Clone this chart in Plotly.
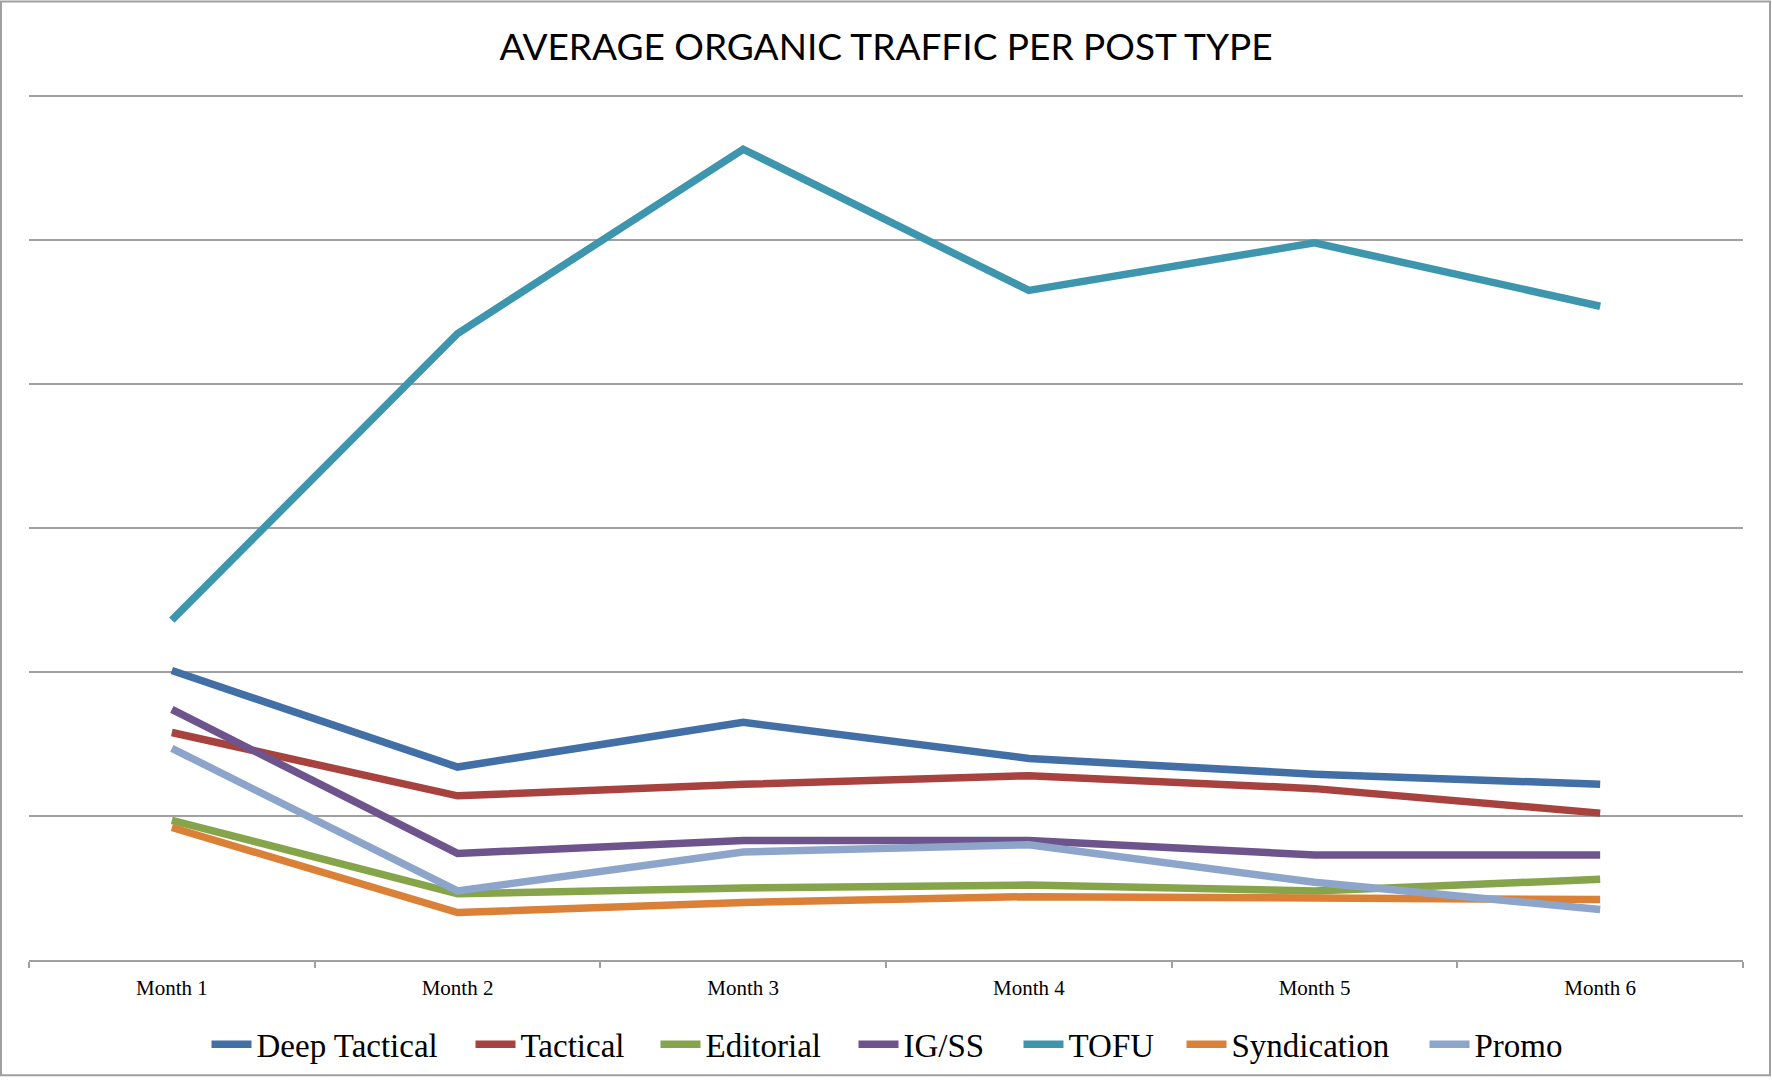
import plotly.graph_objects as go

months = ["Month 1", "Month 2", "Month 3", "Month 4", "Month 5", "Month 6"]

deep_tactical = [2.01, 1.34, 1.65, 1.40, 1.29, 1.22]
tactical      = [1.58, 1.14, 1.22, 1.28, 1.19, 1.02]
editorial     = [0.97, 0.46, 0.50, 0.52, 0.48, 0.56]
ig_ss         = [1.74, 0.74, 0.83, 0.83, 0.73, 0.73]
tofu          = [2.36, 4.35, 5.63, 4.65, 4.98, 4.54]
syndication   = [0.92, 0.33, 0.40, 0.44, 0.43, 0.42]
promo         = [1.47, 0.48, 0.75, 0.80, 0.54, 0.35]

series_names = ["Deep Tactical", "Tactical", "Editorial", "IG/SS", "TOFU", "Syndication", "Promo"]
series_values = [deep_tactical, tactical, editorial, ig_ss, tofu, syndication, promo]
series_colors = ["#416FA6", "#A8423F", "#86A44A", "#6E548D", "#3D96AE", "#DA8137", "#8EA5CB"]
# left pixel position of each legend entry (layout only)
legend_left_px = [212, 476, 661, 859, 1024, 1187, 1430]

W, H = 1772, 1084
ML, MR, MT, MB = 29, 29, 92, 118
PW, PH = W - ML - MR, H - MT - MB
YTOP = 6 + 4 / 145.0

fig = go.Figure()
layout_legends = {}
for i, (name, vals, col) in enumerate(zip(series_names, series_values, series_colors)):
    lg = "legend" if i == 0 else f"legend{i+1}"
    fig.add_trace(go.Scatter(
        x=months, y=vals, name=name, mode="lines",
        line=dict(color=col, width=7.5),
        legend=lg,
    ))
    layout_legends[lg] = dict(
        orientation="h", x=(legend_left_px[i] - 5.5 - ML) / PW, xanchor="left",
        y=(H - MB - 1051) / PH, yanchor="middle",
        font=dict(family="Liberation Serif, serif", size=33, color="#000000"),
        bgcolor="rgba(0,0,0,0)", itemwidth=40,
    )

grid = "#A0A0A0"
fig.update_layout(
    width=W, height=H,
    margin=dict(l=ML, r=MR, t=MT, b=MB, pad=0),
    paper_bgcolor="white", plot_bgcolor="white",
    title=dict(
        text="AVERAGE ORGANIC TRAFFIC PER POST TYPE",
        x=0.5, xanchor="center", xref="container",
        y=1 - 47 / H, yanchor="middle", yref="container",
        font=dict(family="Lato, Open Sans, sans-serif", size=37, color="#000000"),
    ),
    xaxis=dict(
        type="category", range=[-0.5, 5.5],
        showgrid=False, showline=True, linecolor=grid, linewidth=1.5,
        ticks="outside", tickson="boundaries", ticklen=6, tickcolor=grid, tickwidth=1.5,
        tickfont=dict(family="Liberation Serif, serif", size=21, color="#000000"),
        ticklabelstandoff=8,
        zeroline=False, fixedrange=True,
    ),
    yaxis=dict(
        range=[0, YTOP], dtick=1, tick0=0,
        showgrid=True, gridcolor=grid, gridwidth=1.5,
        showticklabels=False, zeroline=False, showline=False, ticks="",
        fixedrange=True,
    ),
    showlegend=True,
    **layout_legends,
)

# outer frame around the whole chart
fig.add_shape(
    type="rect", xref="paper", yref="paper",
    x0=(1 - ML) / PW, x1=(1770 - ML) / PW,
    y0=(H - MB - 1082) / PH, y1=(H - MB - 1) / PH,
    line=dict(color=grid, width=2), fillcolor="rgba(0,0,0,0)", layer="below",
)

fig.write_html("out.html")
